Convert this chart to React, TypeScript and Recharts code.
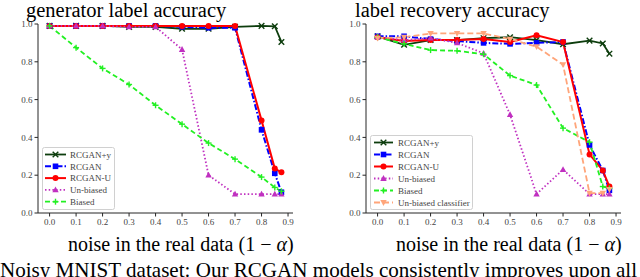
import React from "react";
import { LineChart, Line, XAxis, YAxis, Legend } from "recharts";

const noise = [0, 0.1, 0.2, 0.3, 0.4, 0.5, 0.6, 0.7, 0.8, 0.85, 0.875];
const xTicks = [0, 0.1, 0.2, 0.3, 0.4, 0.5, 0.6, 0.7, 0.8, 0.9];
const yTicks = [0, 0.2, 0.4, 0.6, 0.8, 1.0];

// generator label accuracy
const genRcganY = [0.99, 0.99, 0.99, 0.985, 0.985, 0.975, 0.975, 0.985, 0.99, 0.988, 0.905];
const genRcgan = [0.99, 0.99, 0.99, 0.99, 0.99, 0.985, 0.98, 0.98, 0.44, 0.21, 0.11];
const genRcganU = [0.99, 0.99, 0.99, 0.99, 0.99, 0.99, 0.99, 0.99, 0.49, 0.235, 0.215];
const genUnbiased = [0.99, 0.99, 0.99, 0.985, 0.985, 0.865, 0.2, 0.1, 0.1, 0.1, 0.1];
const genBiased = [0.99, 0.875, 0.765, 0.68, 0.57, 0.47, 0.37, 0.285, 0.19, 0.135, 0.115];

// label recovery accuracy
const recRcganY = [0.935, 0.89, 0.915, 0.915, 0.925, 0.93, 0.915, 0.893, 0.912, 0.897, 0.843];
const recRcgan = [0.935, 0.935, 0.92, 0.91, 0.9, 0.895, 0.9, 0.905, 0.36, 0.225, 0.12];
const recRcganU = [0.93, 0.91, 0.915, 0.915, 0.92, 0.905, 0.94, 0.905, 0.31, 0.225, 0.14];
const recUnbiased = [0.93, 0.915, 0.925, 0.9, 0.845, 0.52, 0.1, 0.23, 0.1, 0.1, 0.1];
const recBiased = [0.93, 0.895, 0.862, 0.858, 0.84, 0.727, 0.677, 0.449, 0.375, 0.14, 0.13];
const recUnbiasedClf = [0.925, 0.93, 0.95, 0.95, 0.95, 0.92, 0.88, 0.785, 0.105, 0.105, 0.125];

type Series = { key: string; name: string; color: string; dash?: string; marker: string; width: number };

const S_RCGANY: Series = { key: "rcganY", name: "RCGAN+y", color: "#0d3d0d", marker: "x", width: 1.8 };
const S_RCGAN: Series = { key: "rcgan", name: "RCGAN", color: "#0000ff", dash: "6 2 1.5 2", marker: "square", width: 2 };
const S_RCGANU: Series = { key: "rcganU", name: "RCGAN-U", color: "#ff0000", marker: "circle", width: 2 };
const S_UNB: Series = { key: "unb", name: "Un-biased", color: "#c030c0", dash: "1.5 2.2", marker: "triUp", width: 1.8 };
const S_BIA: Series = { key: "bia", name: "Biased", color: "#22f022", dash: "5 3", marker: "plus", width: 1.8 };
const S_CLF: Series = { key: "clf", name: "Un-biased classifier", color: "#ffa57a", dash: "6 3", marker: "triDown", width: 1.8 };

const genData = noise.map((x, i) => ({
  x,
  rcganY: genRcganY[i],
  rcgan: genRcgan[i],
  rcganU: genRcganU[i],
  unb: genUnbiased[i],
  bia: genBiased[i],
}));

const recData = noise.map((x, i) => ({
  x,
  rcganY: recRcganY[i],
  rcgan: recRcgan[i],
  rcganU: recRcganU[i],
  unb: recUnbiased[i],
  bia: recBiased[i],
  clf: recUnbiasedClf[i],
}));

function drawMarker(kind: string, color: string, cx: number, cy: number, key?: any) {
  switch (kind) {
    case "x":
      return (
        <g key={key}>
          <line x1={cx - 2.8} y1={cy - 2.8} x2={cx + 2.8} y2={cy + 2.8} stroke={color} strokeWidth={1.4} />
          <line x1={cx - 2.8} y1={cy + 2.8} x2={cx + 2.8} y2={cy - 2.8} stroke={color} strokeWidth={1.4} />
        </g>
      );
    case "square":
      return <rect key={key} x={cx - 2.8} y={cy - 2.8} width={5.6} height={5.6} fill={color} />;
    case "circle":
      return <circle key={key} cx={cx} cy={cy} r={3} fill={color} />;
    case "triUp":
      return <polygon key={key} points={`${cx},${cy - 3.4} ${cx - 3.2},${cy + 2.4} ${cx + 3.2},${cy + 2.4}`} fill={color} />;
    case "triDown":
      return <polygon key={key} points={`${cx},${cy + 3.4} ${cx - 3.2},${cy - 2.4} ${cx + 3.2},${cy - 2.4}`} fill={color} />;
    case "plus":
      return (
        <g key={key}>
          <line x1={cx - 3} y1={cy} x2={cx + 3} y2={cy} stroke={color} strokeWidth={1.4} />
          <line x1={cx} y1={cy - 3} x2={cx} y2={cy + 3} stroke={color} strokeWidth={1.4} />
        </g>
      );
    default:
      return <g key={key} />;
  }
}

const AX = "#262626";
const serif = "'Liberation Serif', 'Times New Roman', serif";
const tickStyle = { fontFamily: serif, fontSize: 9, fill: "#444" };
const fmt = (v: number) => v.toFixed(1);

function LegendBox({ series, w, h, sample, textX, rowH, first }: any) {
  return (
    <svg width={w} height={h} style={{ display: "block" }}>
      <rect x={0.5} y={0.5} width={w - 1} height={h - 1} rx={2} fill="rgba(255,255,255,0.85)" stroke="#d0d0d0" strokeWidth={1} />
      {series.map((s: Series, i: number) => {
        const cy = first + i * rowH;
        return (
          <g key={s.key}>
            <line x1={sample[0]} y1={cy} x2={sample[1]} y2={cy} stroke={s.color} strokeWidth={s.width} strokeDasharray={s.dash} />
            {drawMarker(s.marker, s.color, (sample[0] + sample[1]) / 2, cy)}
            <text x={textX} y={cy + 3.2} style={{ fontFamily: serif, fontSize: 9, fill: "#444" }}>
              {s.name}
            </text>
          </g>
        );
      })}
    </svg>
  );
}

function Panel({ data, series, width, yWidth, marginRight, legend }: any) {
  return (
    <LineChart width={width} height={240} data={data} margin={{ top: 24, right: marginRight, bottom: 0, left: 0 }}>
      <XAxis
        dataKey="x"
        type="number"
        domain={[-0.04375, 0.91875]}
        ticks={xTicks}
        tickFormatter={fmt}
        allowDataOverflow
        height={27}
        stroke={AX}
        tick={tickStyle}
        tickSize={3.5}
        tickMargin={2}
      />
      <XAxis xAxisId="top" dataKey="x" type="number" domain={[-0.04375, 0.91875]} orientation="top" height={0} tick={false} tickLine={false} stroke={AX} allowDataOverflow />
      <YAxis
        type="number"
        domain={[0, 1]}
        ticks={yTicks}
        tickFormatter={fmt}
        width={yWidth}
        stroke={AX}
        tick={tickStyle}
        tickSize={3.5}
        tickMargin={2}
        interval={0}
      />
      <YAxis yAxisId="right" orientation="right" type="number" domain={[0, 1]} width={0} tick={false} tickLine={false} stroke={AX} />
      {series.map((s: Series) => (
        <Line
          key={s.key}
          dataKey={s.key}
          name={s.name}
          type="linear"
          stroke={s.color}
          strokeWidth={s.width}
          strokeDasharray={s.dash}
          isAnimationActive={false}
          dot={(p: any) => drawMarker(s.marker, s.color, p.cx, p.cy, `${s.key}-${p.index}`)}
          activeDot={false}
        />
      ))}
      <Legend
        layout="horizontal"
        verticalAlign="middle"
        align="center"
        wrapperStyle={{ left: legend.left, top: legend.top, width: legend.w, height: legend.h }}
        content={() => (
          <LegendBox series={series} w={legend.w} h={legend.h} sample={legend.sample} textX={legend.textX} rowH={legend.rowH} first={legend.first} />
        )}
      />
    </LineChart>
  );
}

export default function App() {
  return (
    <div style={{ position: "absolute", left: 0, top: 0, width: 640, height: 277, overflow: "hidden", background: "#fff" }}>
      <div style={{ position: "absolute", left: 0, top: 0 }}>
        <Panel
          data={genData}
          series={[S_RCGANY, S_RCGAN, S_RCGANU, S_UNB, S_BIA]}
          width={300}
          yWidth={38}
          marginRight={7}
          legend={{ left: 42, top: 147, w: 73, h: 63, sample: [3, 24], textX: 28, rowH: 11.8, first: 7.5 }}
        />
      </div>
      <div style={{ position: "absolute", left: 320, top: 0 }}>
        <Panel
          data={recData}
          series={[S_RCGANY, S_RCGAN, S_RCGANU, S_UNB, S_BIA, S_CLF]}
          width={320}
          yWidth={46}
          marginRight={19}
          legend={{ left: 50, top: 135, w: 103, h: 75, sample: [4, 23], textX: 28, rowH: 12, first: 7.5 }}
        />
      </div>
      <svg width={640} height={277} style={{ position: "absolute", left: 0, top: 0, pointerEvents: "none" }}>
        <text x={26} y={16.5} fontFamily={serif} fontSize={20.5} fill="#000">generator label accuracy</text>
        <text x={355} y={16.5} fontFamily={serif} fontSize={20.5} fill="#000">label recovery accuracy</text>
        <text x={68} y={251} fontFamily={serif} fontSize={20} fill="#000">
          noise in the real data (1 − <tspan fontStyle="italic">α</tspan>)
        </text>
        <text x={396} y={251} fontFamily={serif} fontSize={20} fill="#000">
          noise in the real data (1 − <tspan fontStyle="italic">α</tspan>)
        </text>
        <text x={0} y={276.5} fontFamily={serif} fontSize={21.5} fill="#000" textLength={637} lengthAdjust="spacingAndGlyphs">
          Noisy MNIST dataset: Our RCGAN models consistently improves upon all
        </text>
      </svg>
    </div>
  );
}
